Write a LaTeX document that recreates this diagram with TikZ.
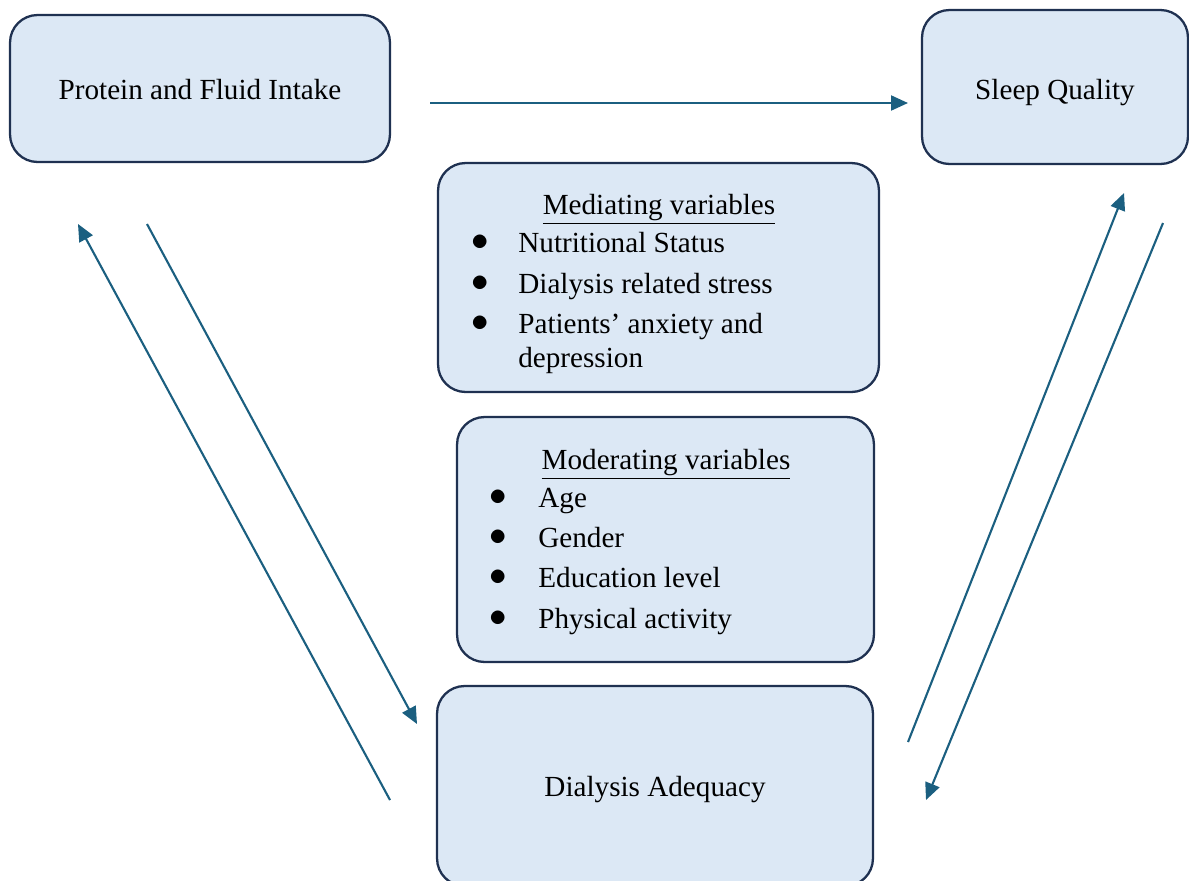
\documentclass[tikz,border=0pt]{standalone}
\usepackage{fontspec}
\setmainfont{Liberation Serif}
\usetikzlibrary{arrows.meta,positioning}
\definecolor{Frame}{HTML}{1F3151}
\definecolor{BoxFill}{HTML}{DCE8F5}
\definecolor{Link}{HTML}{1B5F80}
\tikzset{
  >={Triangle[length=3.4mm,width=3mm]},
  box/.style={rectangle,rounded corners=5.5mm,draw=Frame,line width=1.3pt,fill=BoxFill,inner sep=0pt},
  link/.style={->,line width=1.2pt,draw=Link,fill=Link},
  txt/.style={font=\fontsize{16.6}{20}\selectfont,inner sep=0pt,text height=11.6pt,text depth=0pt},
  item/.style={txt,anchor=west},
  dot/.style={inner sep=0pt,font=\fontsize{16.6}{20}\selectfont}
}
\newcommand{\blob}{\scalebox{1.15}{$\bullet$}}
\begin{document}
\begin{tikzpicture}[x=0.02cm,y=-0.02cm]
  \useasboundingbox (0,0) rectangle (1189,880);

  % boxes
  \node[box,minimum width=7.6cm,minimum height=2.94cm] (intake) at (200,88.5) {};
  \node[box,minimum width=5.32cm,minimum height=3.08cm] (sleep) at (1055,87) {};
  \node[box,minimum width=8.82cm,minimum height=4.58cm] (med) at (658.5,277.5) {};
  \node[box,minimum width=8.34cm,minimum height=4.9cm] (mod) at (665.5,539.5) {};
  \node[box,minimum width=8.72cm,minimum height=4.0cm] (adeq) at (655,786) {};

  \node[txt] at (200,89) {Protein and Fluid Intake};
  \node[txt] at (1055,89) {Sleep Quality};
  \node[txt] at (655,786) {Dialysis Adequacy};

  % mediating list
  \node[txt] (medtitle) at (659,204) {\underline{Mediating variables}};
  \node[dot] at (480,243) {\blob};
  \node[item] (m1) at (518,242) {Nutritional Status};
  \node[dot] at (480,284) {\blob};
  \node[item] (m2) at (518,283) {Dialysis related stress};
  \node[dot] at (480,324) {\blob};
  \node[item] (m3) at (518,323) {Patients’ anxiety and};
  \node[item] (m4) at (518,357) {depression};

  % moderating list
  \node[txt] (modtitle) at (666,459) {\underline{Moderating variables}};
  \node[dot] at (498,498) {\blob};
  \node[item] (d1) at (538,497) {Age};
  \node[dot] at (498,538) {\blob};
  \node[item] (d2) at (538,537) {Gender};
  \node[dot] at (498,578) {\blob};
  \node[item] (d3) at (538,577) {Education level};
  \node[dot] at (498,619) {\blob};
  \node[item] (d4) at (538,618) {Physical activity};

  % arrow ends
  \coordinate (a1) at (430,103);
  \coordinate (a2) at (908,103);
  \coordinate (b1) at (390,800);
  \coordinate (b2) at (78,224);
  \coordinate (c1) at (147,224);
  \coordinate (c2) at (417,724);
  \coordinate (e1) at (908,742);
  \coordinate (e2) at (1124,193);
  \coordinate (f1) at (1163,223);
  \coordinate (f2) at (926,800);

  \draw[link] (a1) -- (a2);
  \draw[link] (b1) -- (b2);
  \draw[link] (c1) -- (c2);
  \draw[link] (e1) -- (e2);
  \draw[link] (f1) -- (f2);
\end{tikzpicture}
\end{document}
